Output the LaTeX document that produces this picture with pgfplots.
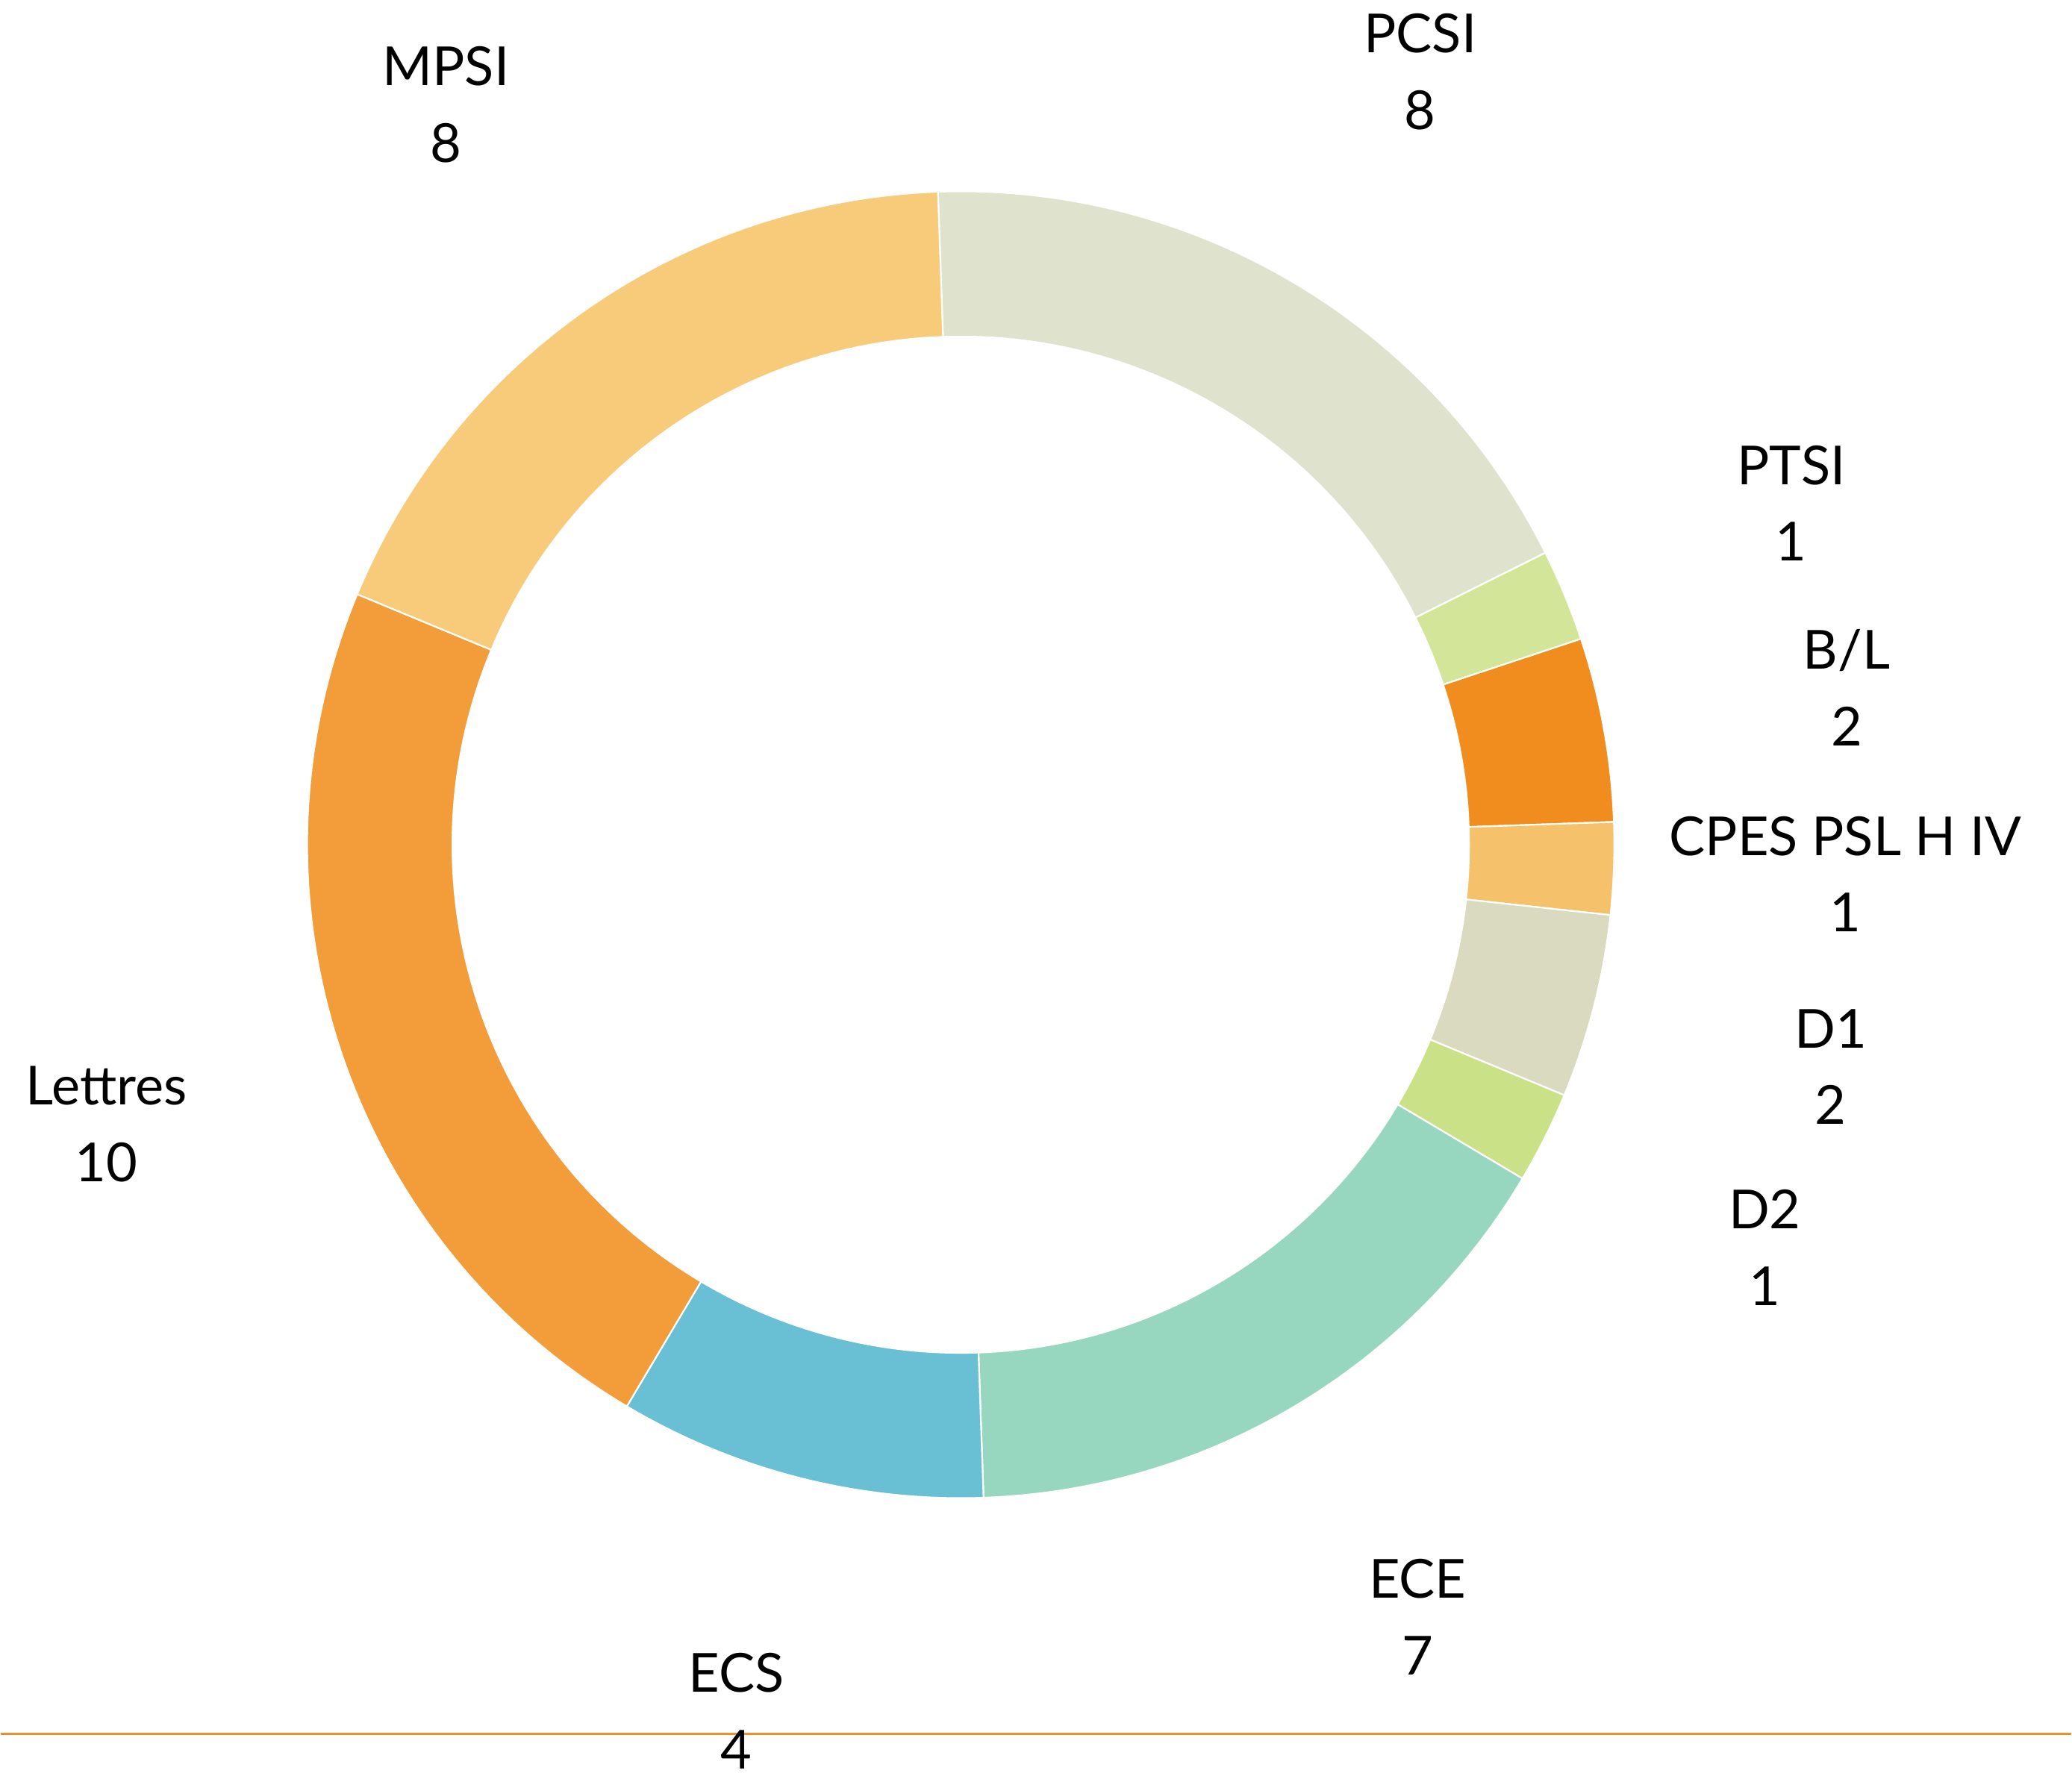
\documentclass[border=0pt]{standalone}
\usepackage{pgfplots}
\pgfplotsset{compat=1.18}
\usepackage{fontspec}
\setmainfont{Lato}
\definecolor{cPCSI}{HTML}{DFE2CC}
\definecolor{cPTSI}{HTML}{D3E598}
\definecolor{cBL}{HTML}{F18C1E}
\definecolor{cCPES}{HTML}{F5C26B}
\definecolor{cDone}{HTML}{DADAC1}
\definecolor{cDtwo}{HTML}{CBE187}
\definecolor{cECE}{HTML}{97D7BF}
\definecolor{cECS}{HTML}{69BFD3}
\definecolor{cLettres}{HTML}{F39C3A}
\definecolor{cMPSI}{HTML}{F7CB7A}
\definecolor{cLine}{HTML}{EA922C}
% slice: #1 = sum of values before, #2 = value, #3 = colour
\newcommand\slice[3]{%
  \pgfmathsetmacro\sa{92-#1*360/44}%
  \pgfmathsetmacro\sb{92-(#1+#2)*360/44}%
  \pgfmathsetmacro\ox{727+495*cos(\sa)}%
  \pgfmathsetmacro\oy{705+495*sin(\sa)}%
  \pgfmathsetmacro\ix{727+385*cos(\sb)}%
  \pgfmathsetmacro\iy{705+385*sin(\sb)}%
  \edef\temp{\noexpand\fill[#3, draw=white, line width=0.35pt]
    (axis cs:\ox,\oy) arc[start angle=\sa, end angle=\sb, radius=49.5mm]
    -- (axis cs:\ix,\iy) arc[start angle=\sb, end angle=\sa, radius=38.5mm] -- cycle;}%
  \temp}
\begin{document}
\begin{tikzpicture}
\begin{axis}[hide axis, scale only axis, x=0.1mm, y=0.1mm,
  xmin=0, xmax=1568, ymin=0, ymax=1345, clip=false]
\path (axis cs:0,0) rectangle (axis cs:1568,1345);
\slice{0}{8}{cPCSI}
\slice{8}{1}{cPTSI}
\slice{9}{2}{cBL}
\slice{11}{1}{cCPES}
\slice{12}{2}{cDone}
\slice{14}{1}{cDtwo}
\slice{15}{7}{cECE}
\slice{22}{4}{cECS}
\slice{26}{10}{cLettres}
\slice{36}{8}{cMPSI}
\addplot[cLine, line width=0.4pt, mark=none] coordinates {(0,31.5) (1568,31.5)};
\tikzset{lab/.style={anchor=base, font=\fontsize{11.6pt}{14pt}\selectfont, inner sep=0pt, overlay}}
\node[lab] at (axis cs:337,{1345-65}) {MPSI};
\node[lab] at (axis cs:337,{1345-123}) {8};
\node[lab] at (axis cs:1075,{1345-40}) {PCSI};
\node[lab] at (axis cs:1075,{1345-98}) {8};
\node[lab] at (axis cs:1356,{1345-367}) {PTSI};
\node[lab] at (axis cs:1356,{1345-425}) {1};
\node[lab] at (axis cs:1398,{1345-507}) {B/L};
\node[lab] at (axis cs:1398,{1345-565}) {2};
\node[lab] at (axis cs:1397,{1345-648}) {CPES PSL H IV};
\node[lab] at (axis cs:1397,{1345-706}) {1};
\node[lab] at (axis cs:1386,{1345-794}) {D1};
\node[lab] at (axis cs:1386,{1345-852}) {2};
\node[lab] at (axis cs:1336,{1345-931}) {D2};
\node[lab] at (axis cs:1336,{1345-989}) {1};
\node[lab] at (axis cs:1073,{1345-1211}) {ECE};
\node[lab] at (axis cs:1073,{1345-1269}) {7};
\node[lab] at (axis cs:557,{1345-1282}) {ECS};
\node[lab] at (axis cs:557,{1345-1340}) {4};
\node[lab] at (axis cs:80,{1345-837}) {Lettres};
\node[lab] at (axis cs:80,{1345-895}) {10};
\end{axis}
\end{tikzpicture}
\end{document}
